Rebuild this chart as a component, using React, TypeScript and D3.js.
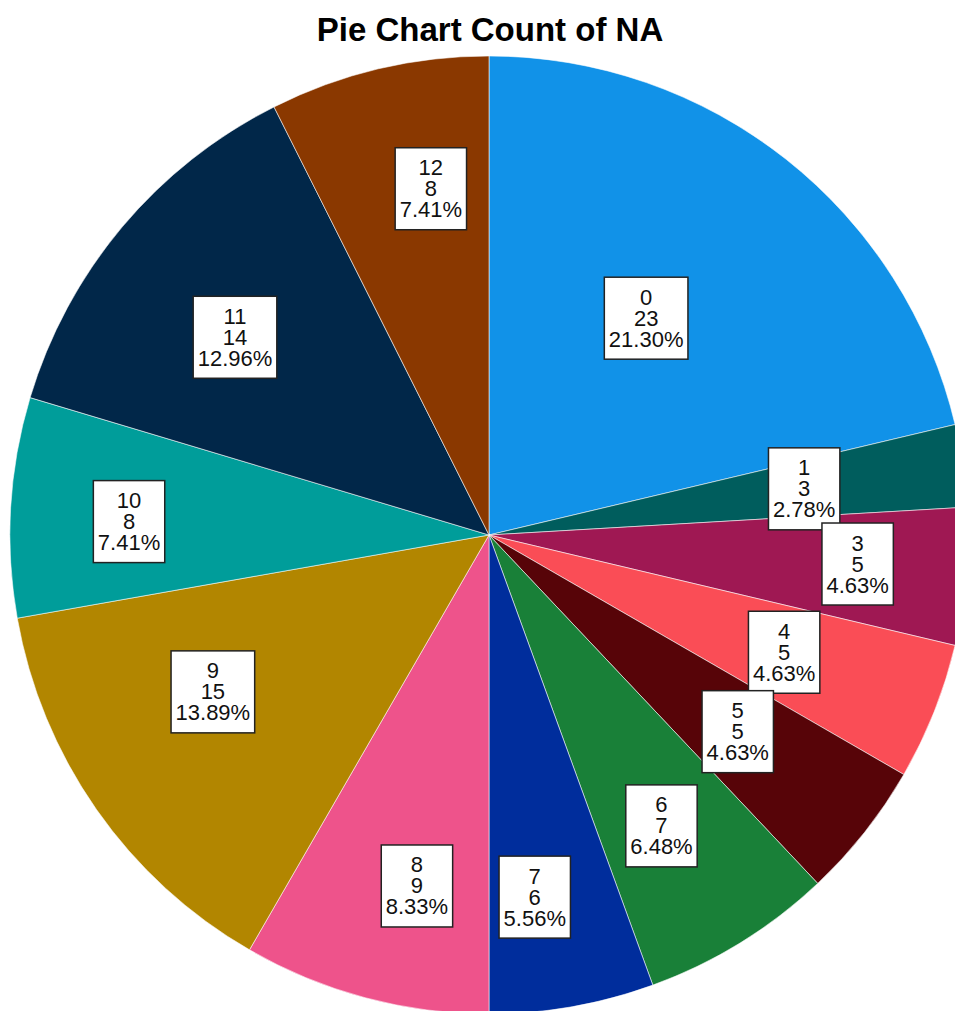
import React, {useEffect, useRef} from 'react';
import * as d3 from 'd3';

// values
const categories = ['0', '1', '3', '4', '5', '6', '7', '8', '9', '10', '11', '12'];
const counts = [23, 3, 5, 5, 5, 7, 6, 9, 15, 8, 14, 8];
const colors = [
  '#1192e8', '#005d5d', '#9f1853', '#fa4d56', '#570408', '#198038',
  '#002d9c', '#ee538b', '#b28600', '#009d9a', '#012749', '#8a3800',
];
// label placement: share of the radius, and nudge off the mid angle (degrees)
const labelRadius = [0.559, 0.665, 0.772, 0.663, 0.662, 0.706, 0.762, 0.748, 0.663, 0.752, 0.672, 0.733];
const labelNudge = [-2.4, 0, -0.5, 0, 0, 1, 2.8, -3.4, 5.4, -1.2, -2.1, 3.8];

const WIDTH = 955;
const HEIGHT = 1011;

interface Slice {
  name: string;
  value: number;
  color: string;
  lr: number;
  nudge: number;
}

const App: React.FC = () => {
  const svgRef = useRef<SVGSVGElement>(null);

  useEffect(() => {
    if (!svgRef.current) return;
    const svg = d3.select(svgRef.current);
    svg.selectAll('*').remove();

    const data: Slice[] = categories.map((c, i) => ({
      name: c,
      value: counts[i],
      color: colors[i],
      lr: labelRadius[i],
      nudge: labelNudge[i],
    }));
    const total = d3.sum(counts);

    const cx = 489;
    const cy = 535;
    const r = 479;

    svg
      .append('text')
      .attr('x', cx + 1)
      .attr('y', 41)
      .attr('text-anchor', 'middle')
      .style('font', 'bold 33px "Liberation Sans", Arial, sans-serif')
      .attr('fill', '#000')
      .text('Pie Chart Count of NA');

    const pie = d3
      .pie<Slice>()
      .value((d) => d.value)
      .sort(null);
    const arcs = pie(data);
    const arc = d3.arc<d3.PieArcDatum<Slice>>().innerRadius(0).outerRadius(r);

    const g = svg.append('g').attr('transform', `translate(${cx},${cy})`);

    g.selectAll('path')
      .data(arcs)
      .join('path')
      .attr('d', arc)
      .attr('fill', (d) => d.data.color)
      .attr('stroke', 'rgba(255,255,255,0.55)')
      .attr('stroke-width', 1);

    const labels = g
      .selectAll('g.lbl')
      .data(arcs)
      .join('g')
      .attr('class', 'lbl')
      .attr('transform', (d) => {
        const a = (d.startAngle + d.endAngle) / 2 + (d.data.nudge * Math.PI) / 180;
        const rr = d.data.lr * r;
        return `translate(${rr * Math.sin(a)},${-rr * Math.cos(a)})`;
      });

    labels.each(function (d) {
      const grp = d3.select(this);
      const lines = [
        d.data.name,
        String(d.data.value),
        `${((d.data.value / total) * 100).toFixed(2)}%`,
      ];
      const rect = grp.append('rect');
      const txt = grp
        .append('text')
        .attr('text-anchor', 'middle')
        .style('font', '22px "Liberation Sans", Arial, sans-serif')
        .attr('fill', '#111');
      lines.forEach((l, i) => {
        txt
          .append('tspan')
          .attr('x', 0)
          .attr('y', (i - 1) * 21)
          .attr('dominant-baseline', 'central')
          .text(l);
      });
      const w = (txt.node() as SVGTextElement).getBBox().width + 9;
      const h = 82;
      rect
        .attr('x', -w / 2)
        .attr('y', -h / 2)
        .attr('width', w)
        .attr('height', h)
        .attr('fill', '#fff')
        .attr('stroke', '#222')
        .attr('stroke-width', 1.5);
    });
  }, []);

  return (
    <div style={{position: 'absolute', left: 0, top: 0}}>
      <svg ref={svgRef} width={WIDTH} height={HEIGHT} style={{display: 'block', background: '#fff'}} />
    </div>
  );
};

export default App;
